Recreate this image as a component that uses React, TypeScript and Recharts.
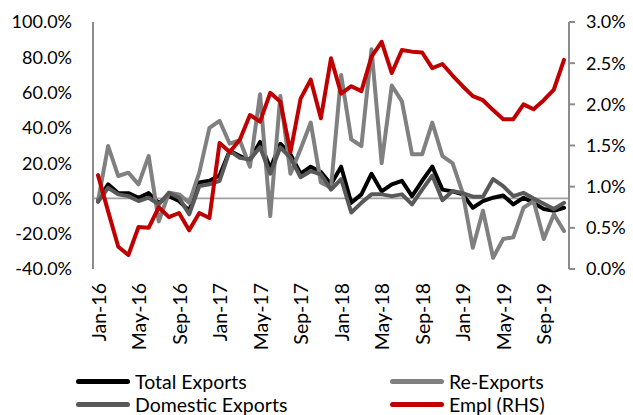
import { LineChart, Line, XAxis, YAxis, Legend, ReferenceLine } from 'recharts'

const months = [
  'Jan-16', 'Feb-16', 'Mar-16', 'Apr-16', 'May-16', 'Jun-16', 'Jul-16', 'Aug-16', 'Sep-16', 'Oct-16', 'Nov-16', 'Dec-16',
  'Jan-17', 'Feb-17', 'Mar-17', 'Apr-17', 'May-17', 'Jun-17', 'Jul-17', 'Aug-17', 'Sep-17', 'Oct-17', 'Nov-17', 'Dec-17',
  'Jan-18', 'Feb-18', 'Mar-18', 'Apr-18', 'May-18', 'Jun-18', 'Jul-18', 'Aug-18', 'Sep-18', 'Oct-18', 'Nov-18', 'Dec-18',
  'Jan-19', 'Feb-19', 'Mar-19', 'Apr-19', 'May-19', 'Jun-19', 'Jul-19', 'Aug-19', 'Sep-19', 'Oct-19', 'Nov-19',
]

// YoY growth, % (left axis)
const totalExports = [
  -1, 8, 3, 3, 0.4, 3, -2.5, 1.3, -1.5, -7, 9, 10,
  13, 27, 24, 22, 32, 17, 31, 25, 14, 18, 15, 8,
  18, -2.5, 2.3, 14, 4, 8, 10, 1.3, 10, 18, 5, 4,
  2.3, -5.3, -1.5, 0.4, 1.7, -3.4, 0.4, -2.5, -6, -7, -5.3,
]
const reExports = [
  -1.5, 29.7, 12.7, 14.6, 8, 24, -13, 3.2, 2.3, -2.5, 14.6, 40,
  44, 31, 33, 18, 59, -10, 58, 14, 28, 43, 9, 6,
  70, 33.5, 29.7, 84.5, 20, 64, 55, 25, 25, 43, 24, 20,
  3.2, -28, -7, -33.6, -23, -22, -5.3, -1.5, -23, -9, -18.5,
]
const domesticExports = [
  -2, 6, 2.3, 1.3, -1.5, 0.4, -3.4, 3.2, 0.4, -9, 7, 8,
  10, 27, 23, 22, 29, 14, 29, 23, 12, 15.5, 13.6, 5,
  11, -8, -2.5, 2.3, 2.3, 1.3, 2.3, -3.4, 5, 13, -1, 4.2,
  3, 1, 1, 11, 7, 1.3, 3.2, 0, -3, -6, -2.5,
]
// employment growth, % (right axis)
const empl = [
  1.14, 0.7, 0.27, 0.17, 0.51, 0.5, 0.75, 0.63, 0.68, 0.47, 0.68, 0.62,
  1.53, 1.42, 1.57, 1.87, 1.79, 2.14, 2.03, 1.42, 2.07, 2.3, 1.83, 2.56,
  2.13, 2.22, 2.16, 2.58, 2.76, 2.38, 2.66, 2.64, 2.63, 2.44, 2.49, 2.35,
  2.22, 2.1, 2.05, 1.93, 1.82, 1.82, 2.0, 1.94, 2.05, 2.18, 2.54,
]

const leftTicks = [-40, -20, 0, 20, 40, 60, 80, 100]
const rightTicks = [0, 0.5, 1, 1.5, 2, 2.5, 3]

const series = [
  { key: 'total', name: 'Total Exports', color: '#000000' },
  { key: 're', name: 'Re-Exports', color: '#808080' },
  { key: 'dom', name: 'Domestic Exports', color: '#595959' },
  { key: 'empl', name: 'Empl (RHS)', color: '#C00000' },
]

const data = months.map((m, i) => ({
  month: m,
  total: totalExports[i],
  re: reExports[i],
  dom: domesticExports[i],
  empl: empl[i],
}))

const FONT = 'Lato, "Open Sans", sans-serif'
const AXIS = '#8c8c8c'

const XTick = ({ x, y, payload }: any) => {
  const ty = y + 14
  return (
    <text x={x} y={ty} transform={`rotate(-90 ${x} ${ty})`} textAnchor="end"
      dominantBaseline="central" fontSize={19.5} fill="#000" fontFamily={FONT}>
      {payload.value}
    </text>
  )
}

const LegendBox = () => {
  const pos = [
    { left: 76, top: 22 }, { left: 390, top: 22 },
    { left: 76, top: 45 }, { left: 390, top: 45 },
  ]
  return (
    <div style={{ position: 'relative', width: 633, height: 56, fontFamily: FONT, fontSize: 19.5, color: '#000' }}>
      {series.map((s, i) => (
        <div key={s.key} style={{ position: 'absolute', left: pos[i].left, top: pos[i].top - 12, height: 24, display: 'flex', alignItems: 'center', whiteSpace: 'nowrap' }}>
          <span style={{ display: 'inline-block', width: 54, height: 5, borderRadius: 3, background: s.color, marginRight: 5 }} />
          {s.name}
        </div>
      ))}
    </div>
  )
}

export default function App() {
  return (
    <div style={{ position: 'absolute', left: 0, top: 0, fontFamily: FONT }}>
      <LineChart width={633} height={415} data={data} margin={{ top: 22, right: 0, bottom: 0, left: 0 }}>
        <XAxis
          dataKey="month" height={90} interval={3}
          padding={{ left: 5, right: 5 }}
          axisLine={false} tickLine={false} tickSize={0} tickMargin={0}
          tick={<XTick />}
        />
        <YAxis
          yAxisId="left" width={93} domain={[-40, 100]} ticks={leftTicks}
          tickFormatter={v => `${v.toFixed(1)}%`}
          axisLine={{ stroke: AXIS, strokeWidth: 2 }} tickLine={false}
          tickSize={0} tickMargin={21}
          tick={{ fill: '#000', fontSize: 18, fontFamily: FONT }}
        />
        <YAxis
          yAxisId="right" orientation="right" width={64} domain={[0, 3]} ticks={rightTicks}
          tickFormatter={v => `${v.toFixed(1)}%`}
          axisLine={{ stroke: AXIS, strokeWidth: 2 }}
          tickLine={{ stroke: AXIS, strokeWidth: 2 }}
          tickSize={6} tickMargin={11}
          tick={{ fill: '#000', fontSize: 18, fontFamily: FONT, textAnchor: 'start' }}
        />
        <ReferenceLine yAxisId="left" y={0} stroke="#a0a0a0" strokeWidth={1.75} />
        <Legend verticalAlign="bottom" height={56} content={<LegendBox />} />
        {series.map(s => (
          <Line
            key={s.key}
            yAxisId={s.key === 'empl' ? 'right' : 'left'}
            type="linear" dataKey={s.key} name={s.name}
            stroke={s.color} strokeWidth={4}
            strokeLinejoin="round" strokeLinecap="round"
            dot={false} activeDot={false}
            isAnimationActive={false}
          />
        ))}
      </LineChart>
    </div>
  )
}
